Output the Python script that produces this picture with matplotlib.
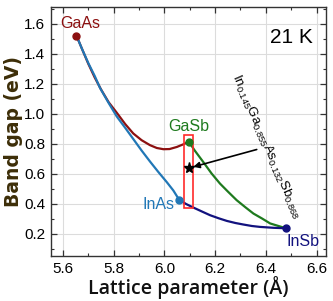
import matplotlib
matplotlib.use("Agg")
import matplotlib.pyplot as plt
from matplotlib.patches import Rectangle
from matplotlib.ticker import MultipleLocator

plt.rcParams['font.family'] = ['Liberation Sans', 'DejaVu Sans']
plt.rcParams['mathtext.fontset'] = 'custom'
plt.rcParams['mathtext.rm'] = 'Liberation Sans'
plt.rcParams['mathtext.it'] = 'Liberation Sans:italic'
plt.rcParams['mathtext.bf'] = 'Liberation Sans:bold'

# Binary compounds: lattice parameter (Å), band gap (eV)
compounds = ["GaAs", "InAs", "GaSb", "InSb"]
comp_a = [5.653, 6.058, 6.096, 6.479]
comp_eg = [1.519, 0.425, 0.812, 0.235]

# Ternary curves
gaassb_a = [5.653, 5.675, 5.70, 5.725, 5.75, 5.78, 5.812, 5.845, 5.877,
            5.91, 5.943, 5.97, 5.996, 6.02, 6.049, 6.075, 6.096]
gaassb_eg = [1.519, 1.43, 1.33, 1.24, 1.16, 1.075, 1.005, 0.93, 0.867,
             0.822, 0.789, 0.77, 0.762, 0.763, 0.777, 0.795, 0.812]

ingaas_a = [5.653, 5.675, 5.70, 5.725, 5.746, 5.78, 5.812, 5.845, 5.877,
            5.91, 5.943, 5.975, 6.009, 6.035, 6.058]
ingaas_eg = [1.519, 1.43, 1.335, 1.25, 1.17, 1.07, 0.98, 0.905, 0.83,
             0.753, 0.68, 0.612, 0.543, 0.487, 0.425]

ingasb_a = [6.096, 6.12, 6.153, 6.186, 6.219, 6.25, 6.285, 6.32, 6.351,
            6.385, 6.417, 6.45, 6.479]
ingasb_eg = [0.812, 0.752, 0.677, 0.60, 0.533, 0.48, 0.422, 0.374, 0.333,
             0.30, 0.267, 0.25, 0.235]

inassb_a = [6.058, 6.085, 6.114, 6.15, 6.18, 6.213, 6.246, 6.28, 6.311,
            6.345, 6.377, 6.43, 6.479]
inassb_eg = [0.425, 0.397, 0.373, 0.345, 0.322, 0.302, 0.284, 0.27, 0.26,
             0.25, 0.244, 0.238, 0.235]

# Quaternary point
quat_a = [6.098]
quat_eg = [0.637]

c_red = '#8c1010'
c_blue = '#2177b6'
c_green = '#1e7a1e'
c_navy = '#12127e'

fig = plt.figure(figsize=(3.33, 3.01), dpi=100)
ax = fig.add_axes([0.152, 0.1495, 0.826, 0.8272])

ax.grid(True, color='#dcdcdc', lw=0.8, zorder=0)
ax.set_axisbelow(True)

kw = dict(lw=1.6, zorder=3, solid_joinstyle='round', solid_capstyle='round')
ax.plot(gaassb_a, gaassb_eg, color=c_red, **kw)
ax.plot(ingaas_a, ingaas_eg, color=c_blue, **kw)
ax.plot(ingasb_a, ingasb_eg, color=c_green, **kw)
ax.plot(inassb_a, inassb_eg, color=c_navy, **kw)

mcols = [c_red, c_blue, c_green, c_navy]
for a, e, c in zip(comp_a, comp_eg, mcols):
    ax.plot([a], [e], 'o', ms=5, mfc=c, mec=c, zorder=5)

# labels
ax.text(5.669, 1.60, "GaAs", color=c_red, fontsize=11.5, ha='center', va='center')
ax.text(6.094, 0.911, "GaSb", color=c_green, fontsize=11.5, ha='center', va='center')
ax.text(5.976, 0.395, "InAs", color=c_blue, fontsize=11.5, ha='center', va='center')
ax.text(6.547, 0.15, "InSb", color=c_navy, fontsize=11.5, ha='center', va='center')
ax.text(6.501, 1.505, "21 K", color='black', fontsize=15, ha='center', va='center')

# red rectangle
ax.add_patch(Rectangle((6.0785, 0.367), 0.0355, 0.493, fill=False,
                       edgecolor='#ff2a2a', lw=1.2, zorder=4))

ax.plot(quat_a, quat_eg, '*', color='black', ms=8, zorder=6)
ax.annotate("", xy=(quat_a[0], quat_eg[0]), xytext=(6.364, 0.76),
            arrowprops=dict(arrowstyle='-|>', color='black', lw=1.2,
                            mutation_scale=9, shrinkA=0, shrinkB=3), zorder=6)

ax.text(6.40, 0.782, r"In$_{0.145}$Ga$_{0.855}$As$_{0.132}$Sb$_{0.868}$",
        fontsize=9.5, rotation=-66.5, rotation_mode='anchor',
        ha='center', va='center', color='black')

ax.set_xlim(5.551, 6.636)
ax.set_ylim(0.05, 1.71)
ax.xaxis.set_major_locator(MultipleLocator(0.2))
ax.xaxis.set_minor_locator(MultipleLocator(0.1))
ax.yaxis.set_major_locator(MultipleLocator(0.2))
ax.yaxis.set_minor_locator(MultipleLocator(0.1))
ax.tick_params(which='both', direction='in', top=True, right=True,
               color='#333333', labelsize=11, pad=4)
ax.tick_params(which='major', length=4, width=0.9)
ax.tick_params(which='minor', length=2.5, width=0.8)
for s in ax.spines.values():
    s.set_color('#333333')
    s.set_linewidth(1.0)

ax.set_xlabel("Lattice parameter (Å)", family='Open Sans', fontweight='semibold',
              fontsize=14, color='#111111', labelpad=0)
ax.set_ylabel("Band gap (eV)", family='DejaVu Sans', fontweight='bold',
              fontsize=13.5, color='#3d2e08', labelpad=1)

fig.savefig("out.png", dpi=100)
